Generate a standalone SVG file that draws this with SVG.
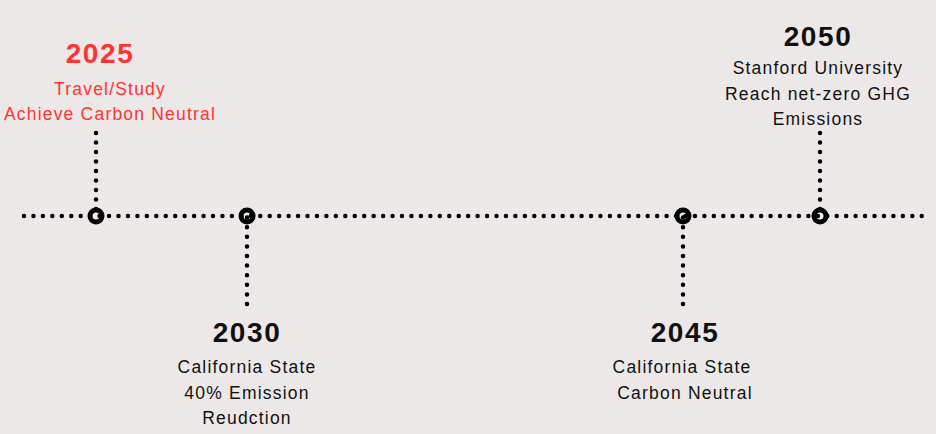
<svg xmlns="http://www.w3.org/2000/svg" width="936" height="434" viewBox="0 0 936 434">
<style>
.dot{stroke:#000;stroke-width:4.5;stroke-linecap:round;fill:none}
.ring{fill:none;stroke:#000;stroke-width:5}
.yr{font-family:"Liberation Sans",Arial,sans-serif;font-weight:bold;font-size:28px;letter-spacing:1.6px;text-anchor:middle}
.tx{font-family:"Liberation Sans",Arial,sans-serif;font-size:17.5px;letter-spacing:1.2px;text-anchor:middle}
.red{fill:#FF3333}
.blk{fill:#111}
</style>
<rect width="936" height="434" fill="#ECE8E7"/>
<g id="connectors">
<line class="dot" x1="24" y1="216" x2="928" y2="216" stroke-dasharray="0 9.45"/>
<line class="dot" x1="96" y1="133" x2="96" y2="216" stroke-dasharray="0 9.5"/>
<line class="dot" x1="820" y1="133" x2="820" y2="216" stroke-dasharray="0 9.5"/>
<line class="dot" x1="247" y1="304" x2="247" y2="216" stroke-dasharray="0 9.6"/>
<line class="dot" x1="683" y1="304" x2="683" y2="216" stroke-dasharray="0 9.6"/>
</g>
<g id="node-2025">
<circle class="ring" cx="96" cy="216" r="6"/>
<text class="yr red" x="100" y="63">2025</text>
<text class="tx red" x="110" y="95">Travel/Study</text>
<text class="tx red" x="110" y="120">Achieve Carbon Neutral</text>
</g>
<g id="node-2030">
<circle class="ring" cx="247" cy="216" r="6"/>
<text class="yr blk" x="247" y="342">2030</text>
<text class="tx blk" x="247" y="373">California State</text>
<text class="tx blk" x="247" y="399">40% Emission</text>
<text class="tx blk" x="247" y="424">Reudction</text>
</g>
<g id="node-2045">
<circle class="ring" cx="683" cy="216" r="6"/>
<text class="yr blk" x="685" y="342">2045</text>
<text class="tx blk" x="682" y="373">California State</text>
<text class="tx blk" x="685" y="399">Carbon Neutral</text>
</g>
<g id="node-2050">
<circle class="ring" cx="820" cy="216" r="6"/>
<text class="yr blk" x="818" y="46">2050</text>
<text class="tx blk" x="818" y="74">Stanford University</text>
<text class="tx blk" x="818" y="100">Reach net-zero GHG</text>
<text class="tx blk" x="818" y="125">Emissions</text>
</g>
</svg>
